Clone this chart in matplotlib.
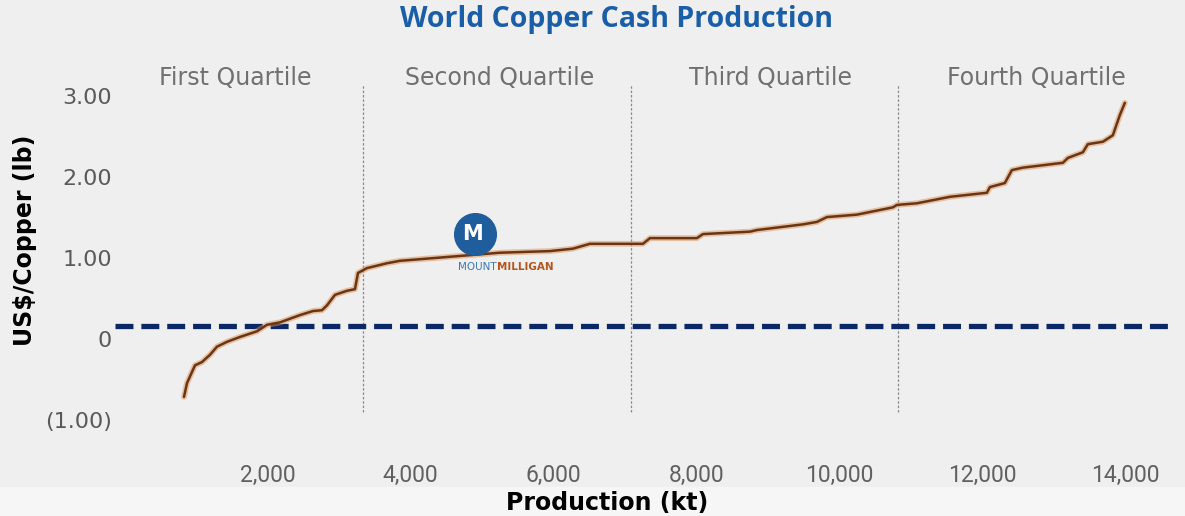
"""
World copper cash-cost curve: cumulative production vs US$/lb,
with quartile dividers and a break-even dashed line.
"""
import matplotlib
matplotlib.use("Agg")
import matplotlib.pyplot as plt
from matplotlib.patches import Rectangle

# cumulative production (kt) and cash cost (US$/lb)
production_kt = [826, 868, 980, 1078, 1190, 1288, 1428, 1610, 1848, 1988,
                 2170, 2450, 2632, 2758, 2828, 2940, 3108, 3220, 3262, 3388,
                 3668, 3850, 4550, 5250, 5950, 6272, 6510, 7252, 7350, 8008,
                 8092, 8750, 8848, 9492, 9688, 9828, 10248, 10752, 10808,
                 11088, 11550, 12068, 12110, 12320, 12418, 12572, 13132,
                 13202, 13412, 13482, 13692, 13832, 13930, 14000]
cash_cost = [-0.71, -0.54, -0.32, -0.28, -0.19, -0.09, -0.03, 0.03, 0.10, 0.18,
             0.21, 0.30, 0.35, 0.36, 0.42, 0.55, 0.60, 0.62, 0.82, 0.88,
             0.94, 0.97, 1.02, 1.07, 1.09, 1.12, 1.18, 1.18, 1.25, 1.25,
             1.30, 1.33, 1.35, 1.42, 1.45, 1.51, 1.54, 1.63, 1.66,
             1.68, 1.76, 1.81, 1.88, 1.93, 2.09, 2.12, 2.18,
             2.24, 2.31, 2.41, 2.44, 2.52, 2.77, 2.92]

quartile_bounds = [3330, 7085, 10820]
quartile_names = ["First Quartile", "Second Quartile", "Third Quartile", "Fourth Quartile"]
quartile_label_x = [1540, 5250, 9045, 12755]
reference_level = 0.16

x_ticks = [2000, 4000, 6000, 8000, 10000, 12000, 14000]
y_ticks = [-1, 0, 1, 2, 3]
y_tick_labels = ["(1.00)", "0", "1.00", "2.00", "3.00"]

mine_x, mine_y = 4900, 1.30

fig = plt.figure(figsize=(11.85, 5.16), dpi=100, facecolor="#efefef")
fig.patches.append(Rectangle((0, 0), 1, 29 / 516, transform=fig.transFigure,
                             facecolor="#f6f6f6", edgecolor="none", zorder=-1))
ax = fig.add_axes([115 / 1185, 1 - 440 / 516, 1060 / 1185, 380 / 516])
ax.set_facecolor("none")
ax.set_xlim(-140, 14702)
ax.set_ylim(-1.242, 3.449)
for s in ax.spines.values():
    s.set_visible(False)

# break-even dashed line
ax.axhline(reference_level, color="#0c2766", linewidth=3.8,
           dashes=(3.4, 1.5), zorder=2)

# quartile dividers
for qb in quartile_bounds:
    ax.plot([qb, qb], [-0.90, 3.14], color="#8a8a8a", linewidth=0.9,
            linestyle=(0, (2, 1.5)), zorder=1)
for qx, qn in zip(quartile_label_x, quartile_names):
    ax.text(qx, 3.23, qn, ha="center", va="center", fontsize=17,
            color="#707070", family="DejaVu Sans")

# cost curve: soft orange halo + dark brown core
ax.plot(production_kt, cash_cost, color="#dc9156", linewidth=4.2, alpha=0.5,
        solid_capstyle="round", zorder=3)
ax.plot(production_kt, cash_cost, color="#6a3512", linewidth=1.8,
        solid_capstyle="round", zorder=4)

# Mount Milligan marker
ax.scatter([mine_x], [mine_y], s=900, color="#1f5d9c", zorder=5)
ax.text(mine_x - 40, mine_y, "M", ha="center", va="center", color="white",
        fontsize=15, fontweight="bold", zorder=6)
ax.text(5208, 0.89, "MOUNT", ha="right", va="center", color="#3b79b5",
        fontsize=7.5, zorder=6)
ax.text(5208, 0.89, "MILLIGAN", ha="left", va="center", color="#b4561c",
        fontsize=7.5, fontweight="bold", zorder=6)

ax.set_xticks(x_ticks)
ax.set_xticklabels([f"{v:,}" for v in x_ticks], family="Roboto",
                   fontsize=16.5, color="#606060")
ax.set_yticks(y_ticks)
ax.set_yticklabels(y_tick_labels, family="DejaVu Sans", fontsize=16,
                   color="#5a5a5a")
ax.tick_params(axis="x", length=0, pad=17)
ax.tick_params(axis="y", length=0, pad=2)

fig.text(617 / 1185, 1 - 20 / 516, "World Copper Cash Production",
         ha="center", va="center", fontsize=20.5, fontweight="bold",
         color="#1a5ea8", family="Open Sans")
fig.text(25 / 1185, 1 - 240 / 516, "US$/Copper (lb)", rotation=90,
         ha="center", va="center", fontsize=17, fontweight="bold",
         color="black", family="DejaVu Sans")
fig.text(607 / 1185, 1 - 503 / 516, "Production (kt)", ha="center",
         va="center", fontsize=17, fontweight="bold", color="black",
         family="DejaVu Sans")

fig.savefig("out.png", dpi=100, facecolor=fig.get_facecolor())
